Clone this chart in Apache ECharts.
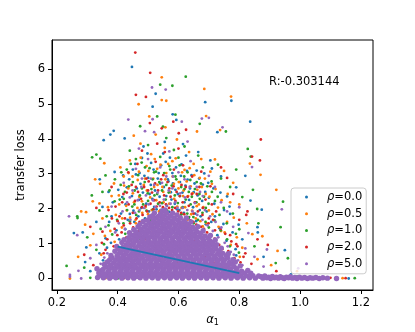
<!DOCTYPE html>
<html>
<head>
<meta charset="utf-8">
<title>transfer loss vs alpha1</title>
<script src="https://cdn.jsdelivr.net/npm/echarts@6/dist/echarts.min.js"></script>
<style>
  html, body { margin: 0; padding: 0; background: #fff; }
  #chart { width: 415px; height: 332px; }
</style>
</head>
<body>
<div id="chart"></div>
<script>
// series names and colours
var rhoNames = ['ρ=0.0', 'ρ=0.5', 'ρ=1.0', 'ρ=2.0', 'ρ=5.0'];
var rhoColors = ['#1f77b4', '#ff7f0e', '#2ca02c', '#d62728', '#9467bd'];
var alpha1Ticks = [0.2, 0.4, 0.6, 0.8, 1.0, 1.2];
var lossTicks = [0, 1, 2, 3, 4, 5, 6];
var rLabel = 'R:-0.303144';

// regression line
var fitX = [0.4, 0.8];
var fitY = [0.91, 0.15];

// points [alpha1, loss]
var rho00 = [
  [0.447,6.06],[0.525,5.29],[0.688,5.05],[0.515,4.92],[0.774,5.09],[0.836,4.49],[0.728,4.19],[0.387,4.23],[0.376,4.12],[0.423,4.01],[0.581,4.70],[0.593,4.54],[0.354,3.96],[0.341,2.84],
  [0.82,2.94],[0.837,2.23],[0.874,1.97],[0.86,1.47],[0.861,1.32],[0.95,0.81],[0.79,2.61],[0.77,1.85],[0.81,1.12],[0.76,2.35],[0.88,0.62],[0.97,0.12],[1.02,0.02],[1.09,0.01],[0.74,2.92],[0.71,3.15],[0.79,0.66],
  [0.256,1.30],[0.285,1.32],[0.297,0.89],[0.293,0.47],[0.33,1.62],[0.35,2.05],[0.36,1.15],[0.31,0.21],[0.37,2.48],[0.34,0.72],[0.39,3.05],[0.38,1.78],
  [0.43,2.61],[0.45,3.12],[0.47,2.25],[0.48,3.45],[0.49,1.72],[0.50,2.88],[0.51,3.31],[0.52,2.05],[0.53,1.48],[0.54,2.72],[0.55,3.58],[0.56,2.36],[0.57,1.91],[0.58,3.02],[0.59,2.54],[0.60,1.64],[0.61,3.27],[0.62,2.18],[0.63,2.83],[0.64,1.42],[0.65,2.47],[0.66,3.09],[0.67,1.96],[0.68,2.69],[0.69,1.55],[0.70,2.31],[0.72,1.78],
  [0.44,1.85],[0.46,2.98],[0.505,2.42],[0.535,3.02],[0.565,2.84],[0.595,1.98],[0.625,3.52],[0.655,1.86],[0.685,3.01],[0.415,2.33],[0.425,1.41],[0.455,1.62],[0.475,2.71],[0.545,1.88],[0.575,2.47],[0.605,2.76],[0.635,2.25],[0.715,2.58],[0.735,1.44],[0.75,1.96],[0.405,1.12],[0.485,3.78],[0.555,3.91],[0.615,3.85],[0.665,3.62],[0.705,3.38],
  [0.372,1.62],[0.384,2.18],[0.396,1.38],[0.402,2.54],[0.411,1.86],[0.418,2.95],[0.426,2.12],[0.433,1.68],[0.438,2.84],[0.447,2.36],[0.452,1.94],[0.458,3.28],[0.463,2.58],[0.468,1.78],[0.472,3.02],[0.478,2.02],[0.483,2.46],[0.488,2.94],[0.494,2.14],[0.498,3.58],[0.503,1.92],[0.509,2.68],[0.514,2.28],[0.518,3.12],[0.523,2.52],[0.528,1.98],[0.532,2.86],[0.538,2.34],[0.543,3.24],[0.548,2.16],[0.552,2.62],[0.558,3.34],[0.562,2.08],[0.567,2.78],[0.572,3.46],[0.577,2.26],[0.582,2.72],[0.588,2.14],[0.592,3.18],[0.598,2.42],
  [0.603,1.96],[0.608,2.94],[0.613,2.46],[0.618,1.88],[0.623,2.66],[0.628,3.08],[0.633,1.72],[0.638,2.58],[0.643,2.96],[0.648,2.04],[0.653,2.72],[0.658,1.64],[0.663,2.38],[0.668,2.86],[0.673,1.78],[0.678,2.22],[0.683,1.36],[0.688,2.48],[0.693,1.92],[0.698,2.74],[0.708,1.62],[0.718,2.14],[0.728,1.24],[0.738,2.46],[0.748,1.56],[0.758,1.08],[0.768,2.06],[0.778,1.32],[0.788,0.84],[0.798,1.54],[0.365,0.88],[0.352,0.52],[0.378,1.02],
  [0.33,0.02],[0.41,0.01],[0.88,0.03],[0.93,0.05],[1.00,0.04],[1.05,0.01],[1.12,0.02],[1.16,0.0]
];
var rho05 = [
  [0.545,5.76],[0.685,5.43],[0.545,5.11],[0.56,5.09],[0.469,4.99],[0.773,5.21],[0.691,4.65],[0.737,4.25],[0.504,4.64],[0.557,4.33],[0.453,4.09],[0.661,4.21],[0.356,3.30],[0.326,2.84],[0.342,2.71],[0.318,2.21],
  [0.835,3.29],[0.87,2.97],[0.922,2.54],[0.825,1.58],[0.843,1.27],[0.876,1.21],[0.926,0.79],[0.905,0.38],[0.78,2.74],[0.80,2.12],[0.76,1.62],[0.81,0.88],[0.86,0.55],[0.75,3.08],[0.99,0.21],[0.72,3.41],
  [0.28,1.92],[0.296,1.90],[0.293,1.54],[0.31,0.95],[0.243,0.0],[0.27,0.62],[0.32,1.28],[0.35,1.72],[0.36,0.45],[0.38,2.36],[0.39,1.05],[0.34,2.15],
  [0.42,2.92],[0.43,1.95],[0.44,3.38],[0.45,2.44],[0.46,1.58],[0.47,3.06],[0.48,2.21],[0.49,2.86],[0.50,1.84],[0.51,3.56],[0.52,2.62],[0.53,3.14],[0.54,1.96],[0.55,2.48],[0.56,3.02],[0.57,2.14],[0.58,3.36],[0.59,1.76],[0.60,2.58],[0.61,2.02],[0.62,3.11],[0.63,1.68],[0.64,2.64],[0.65,3.28],[0.66,2.07],[0.67,2.88],[0.68,1.49],[0.69,2.42],[0.70,1.95],[0.71,2.71],[0.73,2.03],
  [0.435,2.58],[0.465,2.02],[0.495,3.22],[0.525,1.62],[0.555,3.74],[0.585,2.71],[0.615,2.36],[0.645,1.94],[0.675,3.42],[0.705,3.06],[0.415,1.72],[0.445,1.22],[0.515,1.33],[0.575,1.52],[0.635,3.62],[0.595,3.98],[0.475,3.86],[0.525,4.12],[0.74,1.36],[0.77,2.18],[0.405,2.12],
  [0.368,2.04],[0.376,1.36],[0.388,2.72],[0.394,1.82],[0.404,2.38],[0.409,3.18],[0.414,1.46],[0.421,2.66],[0.428,2.08],[0.436,3.02],[0.441,1.74],[0.449,2.92],[0.454,2.18],[0.459,1.68],[0.466,2.82],[0.471,2.34],[0.476,3.46],[0.481,1.88],[0.486,2.68],[0.491,2.04],[0.496,2.52],[0.501,3.08],[0.507,2.32],[0.512,1.96],[0.517,2.86],[0.522,3.42],[0.527,2.24],[0.531,2.68],[0.536,1.92],[0.541,3.26],[0.547,2.62],[0.551,2.18],[0.557,2.84],[0.561,1.94],[0.566,3.28],[0.571,2.48],[0.576,1.86],[0.581,2.92],[0.586,2.28],[0.591,3.44],
  [0.596,2.06],[0.601,2.76],[0.607,1.82],[0.612,3.04],[0.617,2.52],[0.622,2.04],[0.627,2.78],[0.632,2.36],[0.637,3.16],[0.642,1.84],[0.647,2.44],[0.652,2.96],[0.657,1.72],[0.662,2.54],[0.667,2.12],[0.672,1.64],[0.677,2.62],[0.682,2.04],[0.687,2.86],[0.692,1.58],[0.702,2.34],[0.712,1.84],[0.722,2.56],[0.732,1.48],[0.742,2.24],[0.752,1.32],[0.762,2.42],[0.772,0.96],[0.782,1.74],[0.792,1.18],[0.802,0.62],[0.358,1.22],[0.346,0.68],
  [0.36,0.01],[0.45,0.0],[0.91,0.02],[0.96,0.04],[1.03,0.03],[1.08,0.02],[1.14,0.01]
];
var rho10 = [
  [0.624,5.78],[0.54,5.55],[0.58,5.52],[0.756,4.21],[0.59,4.69],[0.53,4.64],[0.474,4.36],[0.67,4.43],[0.549,4.35],[0.316,3.47],[0.33,3.55],[0.343,3.43],[0.315,2.38],[0.268,1.73],
  [0.828,3.71],[0.838,3.49],[0.845,2.54],[0.944,2.20],[0.859,1.99],[0.863,1.58],[0.936,1.47],[0.92,0.44],[0.79,3.12],[0.81,2.33],[0.77,2.62],[0.80,1.41],[0.85,0.92],[0.74,2.86],[0.96,0.58],[0.73,3.26],
  [0.232,0.36],[0.267,1.78],[0.30,1.18],[0.29,0.31],[0.33,0.82],[0.35,2.48],[0.37,1.52],[0.36,2.95],[0.38,0.64],[0.39,2.21],[0.34,1.95],
  [0.42,2.28],[0.43,3.12],[0.44,1.64],[0.45,2.76],[0.46,3.42],[0.47,1.92],[0.48,2.58],[0.49,3.18],[0.50,2.22],[0.51,1.66],[0.52,3.04],[0.53,2.42],[0.54,3.48],[0.55,1.72],[0.56,2.68],[0.57,3.22],[0.58,2.04],[0.59,2.92],[0.60,3.46],[0.61,1.84],[0.62,2.56],[0.63,3.04],[0.64,2.12],[0.65,1.58],[0.66,2.76],[0.67,2.28],[0.68,3.18],[0.69,2.02],[0.70,1.46],[0.71,2.48],[0.72,2.22],
  [0.425,1.28],[0.455,2.12],[0.485,1.48],[0.515,2.84],[0.545,2.16],[0.575,1.42],[0.605,2.36],[0.635,1.76],[0.665,3.52],[0.695,2.64],[0.41,2.68],[0.44,3.66],[0.50,3.82],[0.56,4.02],[0.62,3.78],[0.585,3.68],[0.475,1.12],[0.535,1.05],[0.735,1.82],[0.76,1.12],[0.655,0.98],
  [0.364,1.78],[0.373,2.52],[0.382,1.26],[0.391,2.84],[0.398,1.68],[0.407,2.26],[0.412,3.04],[0.419,1.58],[0.424,2.48],[0.431,1.96],[0.437,2.64],[0.443,3.28],[0.448,2.06],[0.456,2.52],[0.461,1.82],[0.467,2.96],[0.473,2.38],[0.479,3.32],[0.484,2.12],[0.489,2.76],[0.495,1.94],[0.499,2.44],[0.505,3.16],[0.511,2.56],[0.516,1.98],[0.521,2.38],[0.526,3.06],[0.533,2.14],[0.537,2.76],[0.542,1.92],[0.546,2.52],[0.553,3.02],[0.558,2.26],[0.563,1.94],[0.568,2.46],[0.573,3.12],[0.578,2.66],[0.583,1.88],[0.588,2.38],[0.593,2.84],
  [0.598,2.16],[0.604,3.24],[0.609,2.62],[0.614,2.04],[0.619,2.92],[0.624,2.26],[0.629,1.86],[0.634,2.48],[0.639,2.82],[0.644,2.34],[0.649,1.76],[0.654,2.56],[0.659,2.18],[0.664,1.68],[0.669,2.42],[0.674,2.72],[0.679,1.88],[0.684,2.34],[0.689,1.62],[0.699,2.14],[0.709,2.78],[0.719,1.66],[0.729,2.34],[0.739,1.38],[0.749,2.02],[0.759,1.58],[0.769,0.92],[0.779,1.86],[0.789,1.28],[0.799,0.74],[0.355,0.98],[0.344,1.42],[0.362,0.36],
  [0.31,0.02],[0.40,0.0],[0.87,0.03],[0.94,0.02],[0.99,0.05],[1.06,0.02],[1.18,0.01]
];
var rho20 = [
  [0.458,6.47],[0.507,5.89],[0.46,5.26],[0.493,5.20],[0.506,4.45],[0.583,4.49],[0.625,4.26],[0.545,4.30],[0.601,4.16],
  [0.871,3.98],[0.868,3.38],[0.842,3.49],[0.827,1.92],[0.823,1.82],[0.894,0.96],[0.922,0.21],[0.78,2.42],[0.80,1.68],[0.76,2.88],[0.82,0.72],[0.77,1.24],[0.84,0.42],[0.74,3.18],[0.86,1.12],[0.79,0.98],[0.75,0.48],
  [0.29,0.68],[0.31,1.48],[0.33,2.02],[0.32,0.38],[0.35,1.34],[0.36,0.82],[0.37,1.96],[0.38,2.62],[0.39,1.42],[0.34,0.12],
  [0.42,1.52],[0.43,2.46],[0.44,0.98],[0.45,1.88],[0.46,2.62],[0.47,1.36],[0.48,2.04],[0.49,1.12],[0.50,2.52],[0.51,1.44],[0.52,2.24],[0.53,0.86],[0.54,1.78],[0.55,2.96],[0.56,1.32],[0.57,2.58],[0.58,1.64],[0.59,2.22],[0.60,1.08],[0.61,2.68],[0.62,1.46],[0.63,2.34],[0.64,0.92],[0.65,1.86],[0.66,2.42],[0.67,1.22],[0.68,2.02],[0.69,0.76],[0.70,1.72],[0.71,2.12],[0.72,1.38],[0.73,0.68],
  [0.435,3.04],[0.465,3.28],[0.495,2.86],[0.525,3.34],[0.555,3.62],[0.585,3.12],[0.615,3.24],[0.645,2.92],[0.675,3.06],[0.705,2.64],[0.415,2.18],[0.445,0.58],[0.475,0.42],[0.505,0.72],[0.535,0.36],[0.565,0.64],[0.595,0.48],[0.625,0.28],[0.655,0.56],[0.685,0.34],[0.715,0.46],[0.41,0.78],[0.40,1.64],[0.53,3.86],[0.60,3.72],[0.48,3.66],
  [0.366,1.12],[0.374,0.58],[0.381,1.72],[0.387,0.92],[0.393,2.06],[0.399,1.24],[0.406,1.78],[0.413,1.32],[0.419,2.42],[0.424,1.72],[0.429,1.18],[0.436,2.12],[0.441,1.58],[0.446,2.68],[0.451,1.46],[0.457,2.22],[0.462,1.72],[0.467,2.48],[0.472,1.62],[0.477,2.28],[0.482,1.82],[0.487,2.62],[0.492,2.08],[0.497,1.92],[0.502,2.78],[0.508,2.14],[0.513,2.46],[0.518,1.98],[0.523,2.72],[0.528,2.06],[0.533,2.52],[0.538,2.18],[0.543,2.84],[0.549,2.04],[0.553,2.38],[0.559,2.12],[0.564,2.76],[0.569,2.02],[0.574,2.34],[0.579,1.96],
  [0.584,2.64],[0.589,2.02],[0.594,2.48],[0.599,1.92],[0.604,2.36],[0.609,1.88],[0.614,2.18],[0.619,1.84],[0.624,2.62],[0.629,1.76],[0.634,2.08],[0.639,1.66],[0.644,2.42],[0.649,1.62],[0.654,2.18],[0.659,1.54],[0.664,1.92],[0.669,2.62],[0.674,1.48],[0.679,1.82],[0.684,1.42],[0.689,2.26],[0.694,1.32],[0.699,1.58],[0.704,1.26],[0.714,1.68],[0.719,1.14],[0.724,1.92],[0.734,0.96],[0.739,1.42],[0.744,0.84],[0.754,1.28],[0.764,0.78],[0.774,1.06],[0.784,0.58],[0.794,0.92],[0.804,0.46],[0.814,0.62],[0.354,0.72],[0.348,1.02],
  [0.462,0.64],[0.512,1.18],[0.548,0.42],[0.585,0.96],[0.618,0.52],[0.652,1.06],[0.688,0.62],[0.722,0.26],[0.497,0.34],[0.572,1.38],[0.634,0.88],[0.43,0.52],
  [0.35,0.02],[0.42,0.01],[0.85,0.02],[0.90,0.04],[0.97,0.01],[1.02,0.03],[1.10,0.02],[1.15,0.01]
];
// rho=5.0, scattered part
var rho50 = [
  [0.513,5.47],[0.558,5.41],[0.70,4.60],[0.745,4.33],[0.842,3.19],[0.94,1.98],[0.83,1.30],[0.891,0.83],[0.994,0.29],[0.435,4.55],[0.515,4.56],[0.611,4.49],[0.677,4.58],[0.49,4.22],[0.52,4.19],[0.24,1.78],[0.267,1.24],[0.271,0.22],[0.243,0.05],[0.243,0.10],[0.28,0.0],
  [0.42,2.74],[0.44,2.32],[0.46,3.14],[0.48,2.86],[0.50,3.42],[0.52,2.68],[0.54,3.18],[0.56,2.92],[0.58,2.58],[0.60,3.04],[0.62,2.84],[0.64,3.36],[0.66,2.62],[0.68,2.36],[0.70,2.94],[0.72,2.62],[0.74,2.18],[0.76,1.92],[0.78,1.48],[0.80,2.04],[0.82,0.86],[0.85,0.62],[0.88,0.34],[0.36,1.48],[0.38,2.06],[0.33,0.96],[0.31,0.58],[0.47,3.72],[0.57,3.64],[0.63,3.92],
  [0.392,1.32],[0.404,1.58],[0.416,1.92],[0.424,1.42],[0.431,2.18],[0.442,1.68],[0.449,2.52],[0.457,1.88],[0.466,2.24],[0.472,1.96],[0.478,2.62],[0.487,2.02],[0.493,2.38],[0.502,2.12],[0.509,2.86],[0.516,2.24],[0.524,2.04],[0.531,2.46],[0.539,2.08],[0.546,2.74],[0.552,2.26],[0.561,2.08],[0.568,2.52],[0.574,2.14],[0.582,2.92],[0.589,2.18],[0.597,2.02],[0.606,2.44],[0.614,2.02],[0.621,2.32],
  [0.629,1.96],[0.637,2.62],[0.646,1.92],[0.654,2.16],[0.662,1.82],[0.671,2.48],[0.679,1.68],[0.687,1.96],[0.696,1.52],[0.704,1.78],[0.713,1.36],[0.722,1.62],[0.731,1.18],[0.741,1.46],[0.752,1.02],[0.762,0.92],[0.772,0.76],[0.782,0.68],[0.796,0.52],[0.81,0.38],[0.366,0.72],[0.356,0.6],[0.344,0.42]
];
// rho=5.0, dense mass near the floor
var rho50Mass = [
  [0.334,0.03],[0.343,0.09],[0.338,0.16],[0.346,0.22],[0.332,0.28],
  [0.353,0.02],[0.364,0.07],[0.357,0.13],[0.368,0.19],[0.352,0.26],[0.362,0.33],[0.356,0.40],[0.366,0.47],
  [0.374,0.01],[0.385,0.06],[0.377,0.12],[0.388,0.18],[0.372,0.25],[0.383,0.31],[0.376,0.38],[0.387,0.45],[0.373,0.52],[0.382,0.59],[0.378,0.66],
  [0.394,0.02],[0.405,0.08],[0.397,0.14],[0.408,0.2],[0.392,0.27],[0.403,0.33],[0.396,0.39],[0.407,0.46],[0.393,0.52],[0.404,0.58],[0.398,0.65],[0.406,0.72],[0.391,0.78],[0.402,0.85],[0.397,0.92],
  [0.414,0.01],[0.425,0.07],[0.417,0.13],[0.428,0.19],[0.412,0.25],[0.423,0.32],[0.416,0.38],[0.427,0.44],[0.413,0.51],[0.424,0.57],[0.418,0.63],[0.426,0.70],[0.411,0.76],[0.422,0.83],[0.417,0.89],[0.428,0.96],[0.414,1.03],[0.421,1.11],
  [0.434,0.02],[0.445,0.08],[0.437,0.14],[0.448,0.2],[0.432,0.26],[0.443,0.33],[0.436,0.39],[0.447,0.45],[0.433,0.52],[0.444,0.58],[0.438,0.64],[0.446,0.71],[0.431,0.77],[0.442,0.84],[0.437,0.9],[0.448,0.97],[0.434,1.03],[0.441,1.1],[0.436,1.17],[0.447,1.24],[0.439,1.31],
  [0.453,0.01],[0.464,0.06],[0.457,0.12],[0.468,0.19],[0.451,0.25],[0.462,0.31],[0.456,0.37],[0.467,0.44],[0.452,0.5],[0.463,0.56],[0.458,0.63],[0.466,0.69],[0.454,0.75],[0.461,0.82],[0.457,0.88],[0.469,0.94],[0.452,1.0],[0.464,1.07],[0.455,1.13],[0.466,1.2],[0.458,1.26],[0.461,1.33],[0.453,1.4],[0.467,1.48],
  [0.474,0.02],[0.485,0.08],[0.477,0.14],[0.488,0.2],[0.472,0.26],[0.483,0.33],[0.476,0.39],[0.487,0.45],[0.471,0.51],[0.482,0.58],[0.478,0.64],[0.489,0.7],[0.473,0.77],[0.484,0.83],[0.477,0.89],[0.486,0.96],[0.472,1.02],[0.483,1.08],[0.479,1.15],[0.488,1.21],[0.474,1.28],[0.482,1.34],[0.476,1.41],[0.487,1.47],[0.473,1.55],[0.484,1.63],
  [0.493,0.01],[0.504,0.07],[0.497,0.13],[0.508,0.19],[0.492,0.25],[0.503,0.32],[0.496,0.38],[0.507,0.44],[0.491,0.5],[0.502,0.57],[0.498,0.63],[0.509,0.69],[0.494,0.76],[0.505,0.82],[0.497,0.88],[0.506,0.95],[0.492,1.01],[0.503,1.07],[0.499,1.14],[0.508,1.2],[0.494,1.26],[0.502,1.33],[0.496,1.39],[0.507,1.46],[0.493,1.52],[0.504,1.59],[0.498,1.67],[0.506,1.76],
  [0.514,0.02],[0.525,0.08],[0.517,0.14],[0.528,0.2],[0.512,0.27],[0.523,0.33],[0.516,0.39],[0.527,0.45],[0.511,0.52],[0.522,0.58],[0.518,0.64],[0.529,0.71],[0.513,0.77],[0.524,0.83],[0.517,0.9],[0.526,0.96],[0.512,1.02],[0.523,1.09],[0.519,1.15],[0.528,1.21],[0.514,1.28],[0.522,1.34],[0.516,1.41],[0.527,1.47],[0.513,1.53],[0.524,1.6],[0.518,1.66],[0.526,1.73],[0.515,1.8],[0.521,1.88],
  [0.533,0.01],[0.544,0.07],[0.537,0.13],[0.548,0.2],[0.532,0.26],[0.543,0.32],[0.536,0.38],[0.547,0.45],[0.531,0.51],[0.542,0.57],[0.538,0.63],[0.549,0.7],[0.534,0.76],[0.545,0.82],[0.537,0.89],[0.546,0.95],[0.532,1.01],[0.543,1.08],[0.539,1.14],[0.548,1.2],[0.533,1.27],[0.542,1.33],[0.536,1.39],[0.547,1.46],[0.532,1.52],[0.544,1.58],[0.538,1.65],[0.546,1.71],[0.534,1.78],[0.541,1.85],[0.547,1.94],
  [0.554,0.02],[0.565,0.08],[0.557,0.14],[0.568,0.21],[0.552,0.27],[0.563,0.33],[0.556,0.4],[0.567,0.46],[0.551,0.52],[0.562,0.58],[0.558,0.65],[0.569,0.71],[0.553,0.77],[0.564,0.84],[0.557,0.9],[0.566,0.96],[0.552,1.03],[0.563,1.09],[0.559,1.15],[0.568,1.22],[0.554,1.28],[0.562,1.34],[0.556,1.41],[0.567,1.47],[0.553,1.53],[0.564,1.6],[0.558,1.66],[0.566,1.73],[0.552,1.8],[0.561,1.87],[0.556,1.96],
  [0.573,0.01],[0.584,0.07],[0.577,0.13],[0.588,0.19],[0.572,0.26],[0.583,0.32],[0.576,0.38],[0.587,0.44],[0.571,0.51],[0.582,0.57],[0.578,0.63],[0.589,0.7],[0.574,0.76],[0.585,0.82],[0.577,0.88],[0.586,0.95],[0.572,1.01],[0.583,1.07],[0.579,1.14],[0.588,1.2],[0.573,1.26],[0.582,1.33],[0.576,1.39],[0.587,1.45],[0.572,1.52],[0.584,1.58],[0.578,1.65],[0.586,1.72],[0.574,1.79],[0.581,1.87],
  [0.594,0.02],[0.605,0.08],[0.597,0.14],[0.608,0.2],[0.592,0.27],[0.603,0.33],[0.596,0.39],[0.607,0.46],[0.591,0.52],[0.602,0.58],[0.598,0.64],[0.609,0.71],[0.593,0.77],[0.604,0.83],[0.597,0.9],[0.606,0.96],[0.592,1.02],[0.603,1.09],[0.599,1.15],[0.608,1.21],[0.594,1.28],[0.602,1.34],[0.596,1.4],[0.607,1.47],[0.593,1.53],[0.604,1.6],[0.598,1.67],[0.606,1.74],[0.595,1.82],
  [0.613,0.01],[0.624,0.07],[0.617,0.13],[0.628,0.19],[0.612,0.26],[0.623,0.32],[0.616,0.38],[0.627,0.45],[0.611,0.51],[0.622,0.57],[0.618,0.63],[0.629,0.7],[0.614,0.76],[0.625,0.82],[0.617,0.89],[0.626,0.95],[0.612,1.01],[0.623,1.08],[0.619,1.14],[0.628,1.2],[0.613,1.27],[0.622,1.33],[0.616,1.39],[0.627,1.46],[0.614,1.52],[0.624,1.58],[0.618,1.65],[0.626,1.73],
  [0.634,0.02],[0.645,0.08],[0.637,0.14],[0.648,0.2],[0.632,0.27],[0.643,0.33],[0.636,0.39],[0.647,0.45],[0.631,0.52],[0.642,0.58],[0.638,0.64],[0.649,0.71],[0.633,0.77],[0.644,0.83],[0.637,0.89],[0.646,0.96],[0.632,1.02],[0.643,1.08],[0.639,1.15],[0.648,1.21],[0.634,1.27],[0.642,1.34],[0.636,1.4],[0.647,1.47],[0.633,1.54],[0.641,1.62],
  [0.653,0.01],[0.664,0.07],[0.657,0.13],[0.668,0.19],[0.652,0.26],[0.663,0.32],[0.656,0.38],[0.667,0.44],[0.651,0.51],[0.662,0.57],[0.658,0.63],[0.669,0.7],[0.654,0.76],[0.665,0.82],[0.657,0.88],[0.666,0.95],[0.652,1.01],[0.663,1.07],[0.659,1.14],[0.668,1.2],[0.653,1.26],[0.662,1.33],[0.656,1.4],[0.664,1.48],
  [0.674,0.02],[0.685,0.08],[0.677,0.14],[0.688,0.2],[0.672,0.27],[0.683,0.33],[0.676,0.39],[0.687,0.45],[0.671,0.52],[0.682,0.58],[0.678,0.64],[0.689,0.71],[0.673,0.77],[0.684,0.83],[0.677,0.9],[0.686,0.96],[0.672,1.02],[0.683,1.09],[0.679,1.15],[0.688,1.22],[0.674,1.29],[0.681,1.37],
  [0.693,0.01],[0.704,0.07],[0.697,0.13],[0.708,0.19],[0.692,0.26],[0.703,0.32],[0.696,0.38],[0.707,0.44],[0.691,0.51],[0.702,0.57],[0.698,0.63],[0.709,0.7],[0.694,0.76],[0.705,0.82],[0.697,0.89],[0.706,0.95],[0.692,1.01],[0.703,1.08],[0.698,1.15],[0.705,1.23],
  [0.714,0.02],[0.725,0.08],[0.717,0.14],[0.728,0.2],[0.712,0.27],[0.723,0.33],[0.716,0.39],[0.727,0.46],[0.711,0.52],[0.722,0.58],[0.718,0.64],[0.729,0.71],[0.713,0.77],[0.724,0.84],[0.717,0.9],[0.726,0.97],[0.712,1.03],[0.721,1.1],
  [0.733,0.01],[0.744,0.07],[0.737,0.13],[0.748,0.2],[0.732,0.26],[0.743,0.32],[0.736,0.39],[0.747,0.45],[0.731,0.52],[0.742,0.58],[0.738,0.65],[0.746,0.72],[0.734,0.79],[0.741,0.87],
  [0.754,0.02],[0.765,0.08],[0.757,0.14],[0.768,0.2],[0.752,0.27],[0.763,0.33],[0.756,0.39],[0.767,0.46],[0.751,0.53],[0.762,0.59],[0.758,0.65],[0.764,0.71],
  [0.773,0.01],[0.784,0.07],[0.777,0.13],[0.788,0.2],[0.772,0.27],[0.783,0.34],[0.776,0.41],[0.787,0.47],[0.779,0.54],
  [0.794,0.02],[0.805,0.08],[0.797,0.15],[0.808,0.21],[0.792,0.28],[0.803,0.36],
  [0.813,0.01],[0.824,0.08],[0.817,0.15],[0.828,0.23],
  [0.834,0.02],[0.845,0.08],[0.838,0.15],
  [0.853,0.01],[0.864,0.07],
  [0.872,0.05],[0.878,0.01],[0.884,0.07],[0.891,0.02],[0.897,0.04],[0.903,0.0],[0.909,0.06],[0.916,0.02],[0.922,0.04],[0.929,0.01],[0.935,0.05],[0.942,0.02],[0.948,0.0],[0.955,0.04],[0.962,0.02],[0.968,0.05],[0.975,0.01],[0.983,0.03],[0.99,0.0],[0.998,0.04],[1.006,0.01],[1.015,0.03],[1.024,0.0],[1.033,0.02],[1.042,0.01],[1.052,0.03],[1.063,0.0],[1.075,0.02],[1.09,0.01],[1.12,0.0]
];

var FONT = 'DejaVu Sans';
var myChart = echarts.init(document.getElementById('chart'), null, {renderer: 'canvas'});

function scatterSeries(name, color, data, size) {
    return {
        name: name,
        type: 'scatter',
        data: data,
        symbol: 'circle',
        symbolSize: size,
        itemStyle: {color: color, opacity: 1},
        emphasis: {disabled: true},
        silent: true
    };
}

var series = [
    scatterSeries(rhoNames[0], rhoColors[0], rho00, 2.8),
    scatterSeries(rhoNames[1], rhoColors[1], rho05, 2.8),
    scatterSeries(rhoNames[2], rhoColors[2], rho10, 2.8),
    scatterSeries(rhoNames[3], rhoColors[3], rho20, 2.8),
    scatterSeries(rhoNames[4], rhoColors[4], rho50, 2.8),
    // same legend entry, overlapping points drawn bigger so they merge
    scatterSeries(rhoNames[4], rhoColors[4], rho50Mass, 5.4),
    {
        name: 'fit',
        type: 'line',
        data: fitX.map(function (x, i) { return [x, fitY[i]]; }),
        showSymbol: false,
        lineStyle: {color: '#1f77b4', width: 1.8},
        z: 5,
        silent: true
    }
];

myChart.setOption({
    animation: false,
    backgroundColor: '#fff',
    grid: {left: 52, right: 42, top: 40, bottom: 42, show: true, borderColor: '#000', borderWidth: 1, backgroundColor: 'transparent'},
    xAxis: {
        type: 'value',
        min: 0.184,
        max: 1.24,
        name: '{a|α}{s|1}',
        nameLocation: 'middle',
        nameGap: 21,
        nameTextStyle: {
            rich: {
                a: {fontFamily: FONT, fontSize: 11.5, fontStyle: 'italic', color: '#000', lineHeight: 14},
                s: {fontFamily: FONT, fontSize: 8, color: '#000', lineHeight: 14, padding: [5, 0, 0, 0]}
            }
        },
        axisLine: {show: true, onZero: false, lineStyle: {color: '#000', width: 1}},
        axisTick: {show: true, length: 4, customValues: alpha1Ticks, lineStyle: {color: '#000'}},
        axisLabel: {
            customValues: alpha1Ticks,
            margin: 7,
            fontFamily: FONT, fontSize: 11.5, color: '#000',
            formatter: function (v) { return v.toFixed(1); }
        },
        splitLine: {show: false}
    },
    yAxis: {
        type: 'value',
        min: -0.33,
        max: 6.83,
        name: 'transfer loss',
        nameLocation: 'middle',
        nameGap: 19,
        nameTextStyle: {fontFamily: FONT, fontSize: 11.5, color: '#000'},
        axisLine: {show: true, onZero: false, lineStyle: {color: '#000', width: 1}},
        axisTick: {show: true, length: 4, customValues: lossTicks, lineStyle: {color: '#000'}},
        axisLabel: {
            customValues: lossTicks,
            margin: 7,
            fontFamily: FONT, fontSize: 11.5, color: '#000'
        },
        splitLine: {show: false}
    },
    legend: {
        data: rhoNames,
        orient: 'vertical',
        left: 291,
        top: 188,
        padding: [3, 4, 4, 14],
        itemGap: 4.7,
        itemWidth: 3,
        itemHeight: 3,
        icon: 'circle',
        backgroundColor: 'rgba(255,255,255,0.8)',
        borderColor: '#cccccc',
        borderWidth: 1,
        borderRadius: 3,
        selectedMode: false,
        formatter: function (name) {
            return '{i|ρ}{n|' + name.slice(1) + '}';
        },
        textStyle: {
            padding: [0, 0, 0, 14],
            rich: {
                i: {fontFamily: FONT, fontSize: 11.5, fontStyle: 'italic', color: '#000', lineHeight: 14},
                n: {fontFamily: FONT, fontSize: 11.5, color: '#000', lineHeight: 14}
            }
        }
    },
    graphic: [{
        type: 'text',
        left: 269,
        top: 76,
        style: {text: rLabel, font: '11.5px "DejaVu Sans"', fill: '#000'},
        silent: true
    }],
    series: series
});
</script>
</body>
</html>
